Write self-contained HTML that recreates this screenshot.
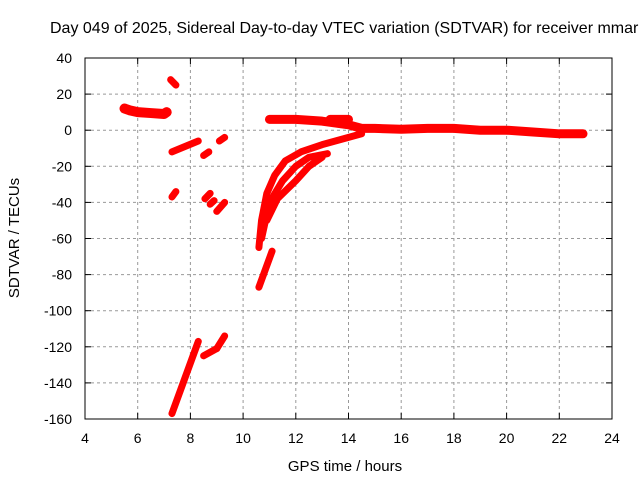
<!DOCTYPE html>
<html><head><meta charset="utf-8"><style>
body{margin:0;background:#fff}
svg{display:block;font-family:"Liberation Sans",sans-serif}
</style></head><body>
<svg id="c" width="640" height="480">
<text x="50" y="33" font-size="16">Day 049 of 2025, Sidereal Day-to-day VTEC variation (SDTVAR) for receiver mmar</text>
<text x="345" y="471" font-size="15" text-anchor="middle">GPS time / hours</text>
<text transform="translate(19,238) rotate(-90)" font-size="15" text-anchor="middle">SDTVAR / TECUs</text>
<g id="grid"></g><g id="marks"></g>
<rect x="85" y="58" width="527" height="361" fill="none" stroke="#000" stroke-width="1"/>
</svg>
<script>
const xTicks=[4,6,8,10,12,14,16,18,20,22,24];
const yTicks=[40,20,0,-20,-40,-60,-80,-100,-120,-140,-160];
const segX=[
[5.5,5.7,6.0,6.5,7.0,7.1],[7.25,7.45],[7.3,8.3],[7.3,7.45],[7.3,8.3],
[8.5,8.7],[8.55,8.75],[9.1,9.3],[9.0,9.3],[8.75,8.9],[8.5,9.0],[9.0,9.3],
[10.6,10.7,10.9,11.2,11.6,12.2,13,14,14.5],
[10.7,11.0,11.5,12,12.5,13.2],
[10.9,11.3,12,12.5,13],
[10.6,11.1],
[11.0,12,13,14,14.5,15,16,17,18,19,20,21,22,22.9],
[13.3,14]
];
const segY=[
[12,11,10,9.5,9,10],[28,25],[-12,-6],[-37,-34],[-157,-117],
[-14,-12],[-38,-35],[-6,-4],[-45,-40],[-41,-39],[-125,-121],[-121,-114],
[-65,-50,-35,-25,-17,-12,-8,-4,-2],
[-60,-40,-28,-20,-15,-13],
[-50,-38,-28,-20,-15],
[-87,-67],
[6,6,5,3,1,1,0.5,1,1,0,0,-1,-2,-2],
[6,6]
];
const X=h=>85+(h-4)*26.35, Y=v=>58+(40-v)*1.805;
const NS="http://www.w3.org/2000/svg";
const g=document.getElementById('grid'), m=document.getElementById('marks');
function mk(tag,a,p){const e=document.createElementNS(NS,tag);for(const k in a)e.setAttribute(k,a[k]);p.appendChild(e);return e;}
xTicks.forEach(t=>{const x=X(t);
 if(t>4&&t<24){const l=mk('line',{x1:x,x2:x,y1:58,y2:419,stroke:'#999','stroke-dasharray':'3,3'},g);
 
 }
 const tx=mk('text',{x:x,y:443,'font-size':14,'text-anchor':'middle'},g);tx.textContent=t;
 
 
 mk('line',{x1:x,x2:x,y1:419,y2:413,stroke:'#000'},g);mk('line',{x1:x,x2:x,y1:58,y2:64,stroke:'#000'},g);});
yTicks.forEach(t=>{const y=Y(t);
 if(t<40&&t>-160){const l=mk('line',{x1:85,x2:612,y1:y,y2:y,stroke:'#999','stroke-dasharray':'3,3'},g);
 
 }
 const tx=mk('text',{x:72,y:y+5,'font-size':14,'text-anchor':'end'},g);tx.textContent=t;
 
 
 mk('line',{x1:85,x2:91,y1:y,y2:y,stroke:'#000'},g);mk('line',{x1:612,x2:606,y1:y,y2:y,stroke:'#000'},g);});
segX.forEach((xs,i)=>{const pts=xs.map((h,j)=>X(h)+','+Y(segY[i][j])).join(' ');
 const w=(i===0)?10:(i===16||i===17)?9:7;
 const p=mk('polyline',{points:pts,fill:'none',stroke:'#f00','stroke-width':w,'stroke-linejoin':'round','stroke-linecap':'round'},m);
 
 });
</script>
</body></html>
